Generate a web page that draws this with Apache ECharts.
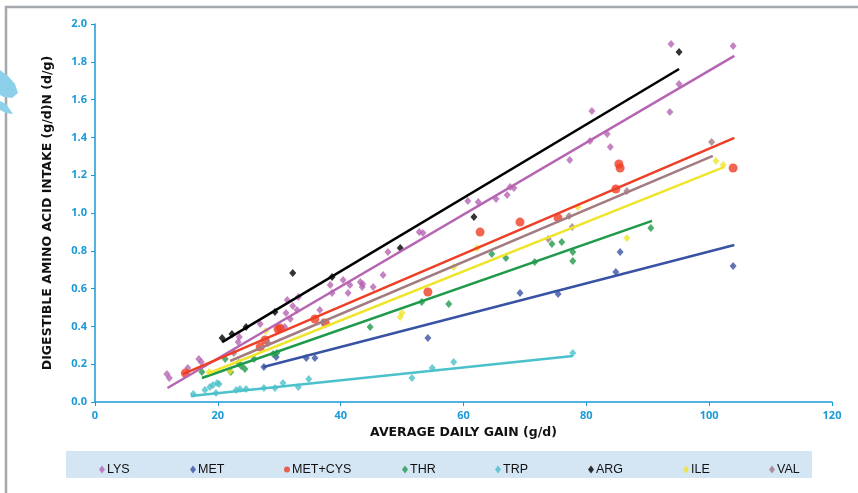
<!DOCTYPE html>
<html><head><meta charset="utf-8">
<script src="https://cdn.jsdelivr.net/npm/echarts@6/dist/echarts.min.js"></script>
<style>html,body{margin:0;padding:0;background:#fff}#c{width:858px;height:493px}</style>
</head><body><div id="c"></div>
<script>
// ---- data: [average daily gain (g/d), intake] ----
const names = ['LYS','MET','MET+CYS','THR','TRP','ARG','ILE','VAL'];
const colors = ['#b565b2','#3953a4','#ef3e26','#1f9a4b','#4bc1cb','#000000','#efe52c','#a37b80'];

const lys = [[11.7,0.148],[12.1,0.127],[15.1,0.180],[16.9,0.228],[17.3,0.212],[23.3,0.317],[23.5,0.344],
  [26.9,0.413],[30.9,0.397],[31.1,0.471],[31.3,0.540],[31.8,0.439],[32.2,0.508],[32.9,0.487],[33.1,0.556],
  [36.6,0.487],[38.3,0.619],[38.6,0.577],[40.4,0.646],[41.2,0.577],[41.5,0.619],[43.2,0.635],[43.5,0.608],
  [43.6,0.624],[45.3,0.608],[46.9,0.672],[47.7,0.794],[52.8,0.899],[53.4,0.894],[60.7,1.063],[62.4,1.058],
  [65.3,1.074],[67.1,1.095],[67.6,1.138],[68.2,1.132],[77.3,1.280],[80.6,1.381],[80.9,1.540],[83.4,1.418],
  [83.9,1.349],[93.6,1.534],[93.8,1.894],[95.1,1.683],[103.9,1.884]];
const met = [[27.5,0.185],[29.5,0.238],[34.4,0.233],[35.8,0.233],[54.2,0.339],[69.2,0.577],[75.4,0.571],
  [84.8,0.688],[85.5,0.794],[103.9,0.720]];
const metCys = [[14.7,0.153],[26.9,0.291],[27.7,0.328],[29.8,0.386],[30.1,0.392],[35.8,0.439],[37.5,0.418],
  [54.2,0.582],[62.7,0.899],[69.2,0.952],[75.4,0.974],[84.8,1.127],[85.3,1.259],[85.5,1.238],[103.9,1.238]];
const thr = [[17.4,0.159],[21.2,0.228],[22.1,0.159],[23.4,0.206],[23.8,0.190],[24.4,0.175],[25.9,0.228],
  [29.0,0.254],[29.6,0.259],[44.8,0.397],[53.2,0.529],[57.6,0.519],[64.6,0.783],[66.9,0.762],[71.6,0.741],
  [74.4,0.836],[76.0,0.847],[77.8,0.794],[77.8,0.746],[90.5,0.921]];
const trp = [[16.0,0.042],[17.9,0.063],[18.7,0.079],[19.2,0.090],[19.9,0.101],[20.2,0.095],[19.7,0.048],
  [23.0,0.063],[23.6,0.069],[24.6,0.069],[27.5,0.074],[29.3,0.074],[30.6,0.101],[33.1,0.079],[34.8,0.122],
  [51.6,0.127],[54.9,0.180],[58.4,0.212],[77.8,0.259]];
const arg = [[20.7,0.339],[22.3,0.360],[24.6,0.397],[29.3,0.476],[32.2,0.683],[38.6,0.661],[49.7,0.815],
  [61.7,0.979],[95.1,1.852]];
const ile = [[18.6,0.159],[22.0,0.164],[27.8,0.376],[49.7,0.450],[50.0,0.471],[58.4,0.714],[62.2,0.815],
  [78.6,1.032],[86.6,0.868],[101.1,1.275],[102.3,1.254]];
const val = [[22.6,0.259],[28.2,0.312],[37.1,0.423],[73.8,0.862],[77.2,0.984],[77.7,0.926],[86.6,1.116],[100.4,1.376]];

// trend line end points
const trendLys = [[11.8,0.074],[104.1,1.831]];
const trendMet = [[27.4,0.185],[104.1,0.831]];
const trendMetCys = [[14.3,0.148],[104.1,1.397]];
const trendThr = [[17.4,0.127],[90.7,0.958]];
const trendTrp = [[15.6,0.032],[77.8,0.243]];
const trendArg = [[20.7,0.317],[95.1,1.762]];
const trendIle = [[18.2,0.148],[102.4,1.243]];
const trendVal = [[22.0,0.217],[100.6,1.302]];

const xTicks = [0,20,40,60,80,100,120];
const yTicks = [0.0,0.2,0.4,0.6,0.8,1.0,1.2,1.4,1.6,1.8,2.0];

const points = [lys, met, metCys, thr, trp, arg, ile, val];
const trends = [trendLys, trendMet, trendMetCys, trendThr, trendTrp, trendArg, trendIle, trendVal];
const legendX = [94, 185, 279, 397, 490, 583, 678, 764];

const axisBlue = '#1a9ad6';
const chart = echarts.init(document.getElementById('c'), null, {renderer:'canvas'});

const series = [];
names.forEach((n,i)=>{
  series.push({
    name:n, type:'scatter', data:points[i],
    symbol: n==='MET+CYS' ? 'circle' : 'diamond',
    symbolSize: n==='MET+CYS' ? 9 : [7,8],
    itemStyle:{color:colors[i]}, z:2, silent:true
  });
});
names.forEach((n,i)=>{
  series.push({
    name:n+' trend', type:'line', data:trends[i], symbol:'none',
    lineStyle:{color:colors[i], width:2.5}, z:3, silent:true, animation:false
  });
});

const legends = names.map((n,i)=>({
  data:[{name:n, icon: n==='MET+CYS' ? 'circle' : 'diamond'}],
  left:legendX[i], top:458, itemWidth:6, itemHeight:8,
  selectedMode:false,
  textStyle:{color:'#111', fontSize:12.5, fontFamily:'"Liberation Sans Narrow","Liberation Sans",sans-serif', padding:[0,0,0,-3]}
}));

const nameFont = {color:'#111', fontSize:12.5, fontWeight:'bold', fontFamily:'"DejaVu Sans",sans-serif'};

chart.setOption({
  animation:false,
  backgroundColor:'#fff',
  grid:{left:95, right:26, top:24, bottom:91},
  legend: legends,
  xAxis:{
    type:'value', min:0, max:120, interval:20,
    name:'AVERAGE DAILY GAIN (g/d)', nameLocation:'middle', nameGap:23,
    nameTextStyle:nameFont,
    axisLine:{lineStyle:{color:axisBlue, width:1.5}},
    axisTick:{show:true, length:4, lineStyle:{color:axisBlue}},
    axisLabel:{color:axisBlue, fontSize:11, fontWeight:'bold', fontFamily:'"Open Sans",sans-serif', margin:8,
      formatter:v=> xTicks.includes(v) ? String(v) : ''},
    splitLine:{show:false}
  },
  yAxis:{
    type:'value', min:0, max:2, interval:0.2,
    name:'DIGESTIBLE AMINO ACID INTAKE (g/d)N (d/g)', nameLocation:'middle', nameGap:41, nameRotate:90,
    nameTextStyle:nameFont,
    axisLine:{show:true, lineStyle:{color:axisBlue, width:1.5}},
    axisTick:{show:true, length:4, lineStyle:{color:axisBlue}},
    axisLabel:{color:axisBlue, fontSize:11, fontWeight:'bold', fontFamily:'"Open Sans",sans-serif', margin:8,
      formatter:v=>{ const t = yTicks.find(k=>Math.abs(k-v)<1e-6); return t===undefined ? '' : t.toFixed(1); }},
    splitLine:{show:false}
  },
  graphic:[
    {type:'rect', shape:{x:66, y:451, width:746, height:27}, style:{fill:'#d4e6f4'}, z:-10, silent:true},
    {type:'polyline', shape:{points:[[6,493],[6,7],[858,7]]}, style:{stroke:'#a5a9ad', lineWidth:2.5, fill:null}, z:-10, silent:true},
    {type:'polygon', shape:{points:[[0,70],[8,76],[15,84],[18,93],[12,98],[4,97],[0,95]]}, style:{fill:'#8dd0ea'}, z:-10, silent:true},
    {type:'polygon', shape:{points:[[0,101],[6,104],[13,114],[6,113],[0,110]]}, style:{fill:'#8dd0ea'}, z:-10, silent:true}
  ],
  series: series
});
</script>
</body></html>
